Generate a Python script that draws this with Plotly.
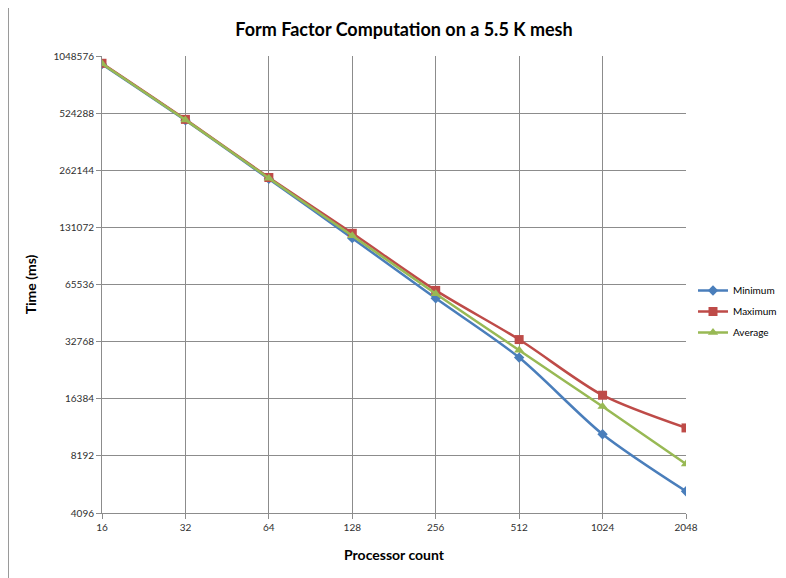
import plotly.graph_objects as go

processors = [16, 32, 64, 128, 256, 512, 1024, 2048]
minimum = [950000, 481000, 236000, 115000, 55400, 27000, 10650, 5330]
maximum = [960000, 486000, 240000, 122000, 61000, 33600, 17100, 11500]
average = [955000, 483000, 238000, 118500, 58600, 29500, 14900, 7430]

y_ticks = [4096, 8192, 16384, 32768, 65536, 131072, 262144, 524288, 1048576]
x_ticks = processors

fig = go.Figure()
series = [
    ("Minimum", minimum, "#4a7ebb", "diamond", 8),
    ("Maximum", maximum, "#be4b48", "square", 9),
    ("Average", average, "#98b954", "triangle-up", 9),
]
for name, vals, color, sym, size in series:
    fig.add_trace(go.Scatter(
        x=processors, y=vals, name=name, mode="lines+markers", legendgroup=name,
        line=dict(color=color, width=2.5, shape="spline", smoothing=0.8),
        marker=dict(symbol=sym, size=size, color=color),
    ))

# page body has an 8px margin, so the figure is drawn 8px smaller and shifted
OFF = 8
W, H = 786 - OFF, 578 - OFF
L, T = 102 - OFF, 56 - OFF
R = W - (686 - OFF)
B = H - (513 - OFF)
pw, ph = W - L - R, H - T - B
def px(x):
    return (x - OFF - L) / pw
def py(y):
    return (H - B - (y - OFF)) / ph

fig.update_layout(
    width=W, height=H,
    margin=dict(l=L, r=R, t=T, b=B, autoexpand=False),
    paper_bgcolor="white", plot_bgcolor="white",
    font=dict(family="Lato, sans-serif", color="#404040", size=10),
    title=dict(text="<b>Form Factor Computation on a 5.5 K mesh</b>",
               x=(404 - OFF) / W, xanchor="center", y=1 - (30 - OFF) / H, yanchor="middle",
               font=dict(size=18, color="black", family="Lato, sans-serif")),
    showlegend=True,
    legend=dict(xref="container", yref="container", x=(693 - OFF) / W, y=1 - (276 - OFF) / H,
                xanchor="left", yanchor="top", traceorder="grouped",
                font=dict(size=10, color="black"), tracegroupgap=2,
                itemwidth=30, bgcolor="rgba(0,0,0,0)"),
    xaxis=dict(type="log", range=[1.2041199826559248, 3.3113299523037933], automargin=False,
               tickvals=x_ticks, ticktext=[str(v) for v in x_ticks],
               showgrid=True, gridcolor="#8c8c8c", gridwidth=1,
               showline=True, linecolor="#8c8c8c", linewidth=1,
               ticks="outside", ticklen=5, tickcolor="#8c8c8c",
               tickfont=dict(size=10, color="#303030"),
               title=dict(text="<b>Processor count</b>", font=dict(size=14, color="black"), standoff=18),
               zeroline=False, mirror=False),
    yaxis=dict(type="log", range=[3.6123599479677742, 6.020599913279624], automargin=False,
               tickvals=y_ticks, ticktext=[str(v) for v in y_ticks],
               showgrid=True, gridcolor="#8c8c8c", gridwidth=1,
               showline=True, linecolor="#8c8c8c", linewidth=1,
               ticks="outside", ticklen=5, tickcolor="#8c8c8c",
               tickfont=dict(size=10, color="#303030"),
               title=dict(text="<b>Time (ms)</b>", font=dict(size=14, color="black"), standoff=13),
               zeroline=False),
    shapes=[
        dict(type="line", xref="paper", yref="paper", x0=px(8.5), x1=px(8.5), y0=py(7.5), y1=py(600),
             line=dict(color="#9a9a9a", width=1)),
        dict(type="line", xref="paper", yref="paper", x0=px(8.5), x1=px(800), y0=py(7.5), y1=py(7.5),
             line=dict(color="#9a9a9a", width=1)),
    ],
)

fig.write_html("out.html")
